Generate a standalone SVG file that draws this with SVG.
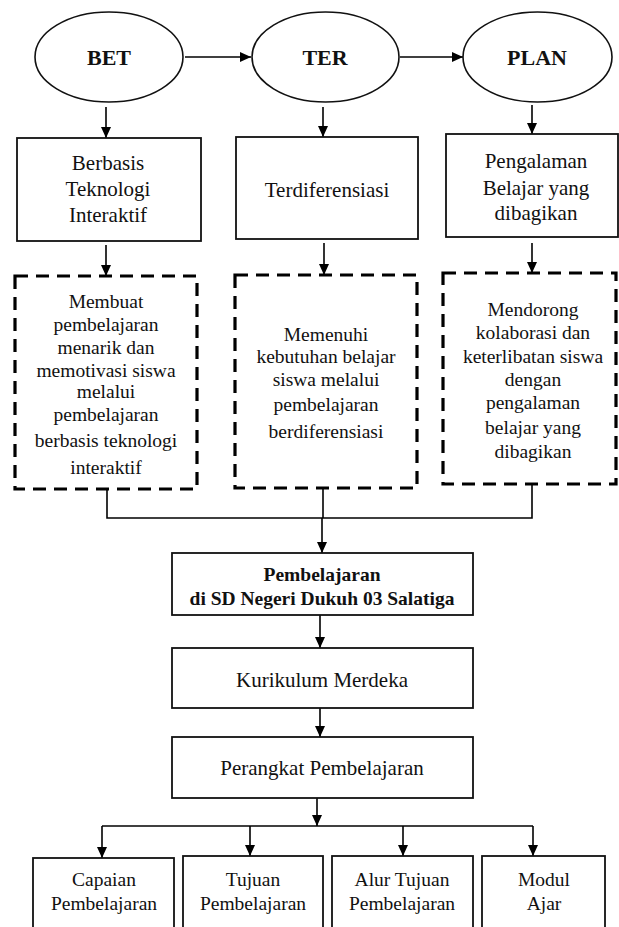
<svg xmlns="http://www.w3.org/2000/svg" width="619" height="927" viewBox="0 0 619 927" font-family="Liberation Serif, DejaVu Serif, serif">
<defs>
<marker id="ah" markerUnits="userSpaceOnUse" markerWidth="12" markerHeight="11" refX="11" refY="5" orient="auto">
<path d="M0,0 L11,5 L0,10 z" fill="#000"/>
</marker>
<style>
.ell{fill:#fff;stroke:#111;stroke-width:1.6}
.box{fill:#fff;stroke:#111;stroke-width:1.8}
.dash{fill:#fff;stroke:#000;stroke-width:3.2;stroke-dasharray:13 8}
.con{fill:none;stroke:#000;stroke-width:1.6}
.arr{fill:none;stroke:#000;stroke-width:1.6;marker-end:url(#ah)}
text{font-family:'Liberation Serif','DejaVu Serif',serif;fill:#111;text-anchor:middle}
.lbl{font-size:22px;font-weight:bold}
.t21{font-size:21px}
.t19{font-size:19.5px}
.b19{font-size:19.5px;font-weight:bold}
</style>
</defs>
<rect width="619" height="927" fill="#fff"/>

<g id="connectors">
<path class="arr" d="M185,57 H251"/>
<path class="arr" d="M400,57 H463"/>
<path class="arr" d="M106,107 V138"/>
<path class="arr" d="M323,107 V137"/>
<path class="arr" d="M532,105 V134"/>
<path class="arr" d="M106,245 V276"/>
<path class="arr" d="M324,243 V275"/>
<path class="arr" d="M532,243 V273"/>
<path class="con" d="M107,489 V518 H532 V484"/>
<path class="con" d="M323,488 V518"/>
<path class="arr" d="M322,518 V553"/>
<path class="arr" d="M320,615 V648"/>
<path class="arr" d="M320,708 V737"/>
<path class="arr" d="M317,798 V826"/>
<path class="con" d="M102,826 H533"/>
<path class="arr" d="M102,826 V858"/>
<path class="arr" d="M250,826 V856"/>
<path class="arr" d="M403,826 V856"/>
<path class="arr" d="M533,826 V856"/>
</g>

<g id="bet">
<ellipse class="ell" cx="109" cy="57" rx="74" ry="45"/>
<text class="lbl" x="109" y="65">BET</text>
</g>
<g id="ter">
<ellipse class="ell" cx="325.5" cy="57" rx="73.5" ry="45"/>
<text class="lbl" x="325" y="65">TER</text>
</g>
<g id="plan">
<ellipse class="ell" cx="537.5" cy="57" rx="74.5" ry="45"/>
<text class="lbl" x="537" y="65">PLAN</text>
</g>

<g id="berbasis">
<rect class="box" x="17" y="138" width="184" height="103"/>
<text class="t21" x="108" y="170">Berbasis</text>
<text class="t21" x="108" y="196">Teknologi</text>
<text class="t21" x="108" y="222">Interaktif</text>
</g>
<g id="terdiferensiasi">
<rect class="box" x="236" y="137" width="182" height="102"/>
<text class="t21" x="327" y="197">Terdiferensiasi</text>
</g>
<g id="pengalaman">
<rect class="box" x="446" y="134" width="172" height="103"/>
<text class="t21" x="536" y="168">Pengalaman</text>
<text class="t21" x="536" y="195">Belajar yang</text>
<text class="t21" x="536" y="220">dibagikan</text>
</g>

<g id="desc-bet">
<rect class="dash" x="15" y="276" width="182" height="213"/>
<text class="t19" x="106" y="308">Membuat</text>
<text class="t19" x="106" y="331">pembelajaran</text>
<text class="t19" x="106" y="354">menarik dan</text>
<text class="t19" x="106" y="377">memotivasi siswa</text>
<text class="t19" x="106" y="398">melalui</text>
<text class="t19" x="106" y="421">pembelajaran</text>
<text class="t19" x="106" y="447">berbasis teknologi</text>
<text class="t19" x="106" y="474">interaktif</text>
</g>
<g id="desc-ter">
<rect class="dash" x="235" y="275" width="182" height="213"/>
<text class="t19" x="326" y="341">Memenuhi</text>
<text class="t19" x="326" y="363">kebutuhan belajar</text>
<text class="t19" x="326" y="386">siswa melalui</text>
<text class="t19" x="326" y="411">pembelajaran</text>
<text class="t19" x="326" y="438">berdiferensiasi</text>
</g>
<g id="desc-plan">
<rect class="dash" x="443" y="273" width="173" height="211"/>
<text class="t19" x="533" y="316">Mendorong</text>
<text class="t19" x="533" y="339">kolaborasi dan</text>
<text class="t19" x="533" y="363">keterlibatan siswa</text>
<text class="t19" x="533" y="386">dengan</text>
<text class="t19" x="533" y="409">pengalaman</text>
<text class="t19" x="533" y="434">belajar yang</text>
<text class="t19" x="533" y="458">dibagikan</text>
</g>

<g id="pembelajaran-sd">
<rect class="box" x="172" y="553" width="301" height="62"/>
<text class="b19" x="322" y="581">Pembelajaran</text>
<text class="b19" x="322" y="605">di SD Negeri Dukuh 03 Salatiga</text>
</g>
<g id="kurikulum">
<rect class="box" x="172" y="648" width="301" height="60"/>
<text class="t21" x="322" y="687">Kurikulum Merdeka</text>
</g>
<g id="perangkat">
<rect class="box" x="172" y="737" width="301" height="61"/>
<text class="t21" x="322" y="775">Perangkat Pembelajaran</text>
</g>

<g id="capaian">
<rect class="box" x="33" y="858" width="141" height="80"/>
<text class="t19" x="104" y="886">Capaian</text>
<text class="t19" x="104" y="910">Pembelajaran</text>
</g>
<g id="tujuan">
<rect class="box" x="183" y="856" width="140" height="82"/>
<text class="t19" x="253" y="886">Tujuan</text>
<text class="t19" x="253" y="910">Pembelajaran</text>
</g>
<g id="alur">
<rect class="box" x="332" y="856" width="141" height="82"/>
<text class="t19" x="402" y="886">Alur Tujuan</text>
<text class="t19" x="402" y="910">Pembelajaran</text>
</g>
<g id="modul">
<rect class="box" x="482" y="856" width="123" height="82"/>
<text class="t19" x="544" y="886">Modul</text>
<text class="t19" x="544" y="910">Ajar</text>
</g>
</svg>
